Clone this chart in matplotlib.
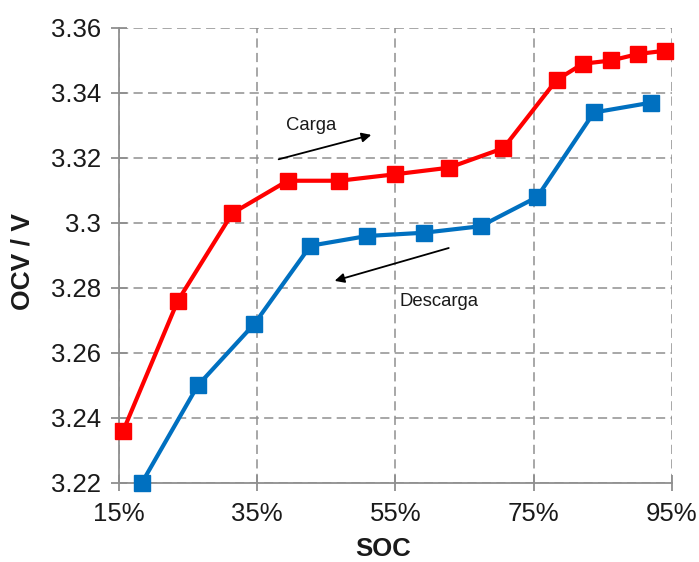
import matplotlib
matplotlib.use("Agg")
import matplotlib.pyplot as plt

plt.rcParams['font.family'] = ['Liberation Sans', 'DejaVu Sans']

# State of charge (%) and open-circuit voltage (V)
soc_carga = [15.6, 23.5, 31.4, 39.4, 46.9, 55.0, 62.7, 70.6, 78.3, 82.1, 86.2, 90.1, 94.0]
ocv_carga = [3.236, 3.276, 3.303, 3.313, 3.313, 3.315, 3.317, 3.323, 3.344, 3.349, 3.350, 3.352, 3.353]

soc_descarga = [18.3, 26.4, 34.6, 42.7, 50.9, 59.1, 67.3, 75.5, 83.7, 91.9]
ocv_descarga = [3.220, 3.250, 3.269, 3.293, 3.296, 3.297, 3.299, 3.308, 3.334, 3.337]

x_ticks = [15, 35, 55, 75, 95]
x_labels = ['15%', '35%', '55%', '75%', '95%']
y_ticks = [3.22, 3.24, 3.26, 3.28, 3.30, 3.32, 3.34, 3.36]
y_labels = ['3.22', '3.24', '3.26', '3.28', '3.3', '3.32', '3.34', '3.36']

grid_gray = '#8f8f8f'
text_col = '#1a1a1a'

W, H = 699, 562
fig = plt.figure(figsize=(W / 100, H / 100), dpi=100)
ax = fig.add_axes([0.1702, 0.1406, 0.7912, 0.8096])

ax.plot(soc_carga, ocv_carga, color='#ff0000', lw=3.0, marker='s', ms=11.5,
        zorder=4, clip_on=False)
ax.plot(soc_descarga, ocv_descarga, color='#0070c0', lw=3.0, marker='s', ms=11.5,
        zorder=4, clip_on=False)

ax.set_xlim(15, 95)
ax.set_ylim(3.22, 3.36)
ax.set_xticks(x_ticks)
ax.set_xticklabels(x_labels)
ax.set_yticks(y_ticks)
ax.set_yticklabels(y_labels)

ax.grid(True, color=grid_gray, lw=1.1, ls=(0, (6, 3.5)))
ax.set_axisbelow(True)
for side in ('top', 'right'):
    ax.spines[side].set_visible(False)
for side in ('left', 'bottom'):
    ax.spines[side].set_color(grid_gray)
    ax.spines[side].set_linewidth(1.3)

ax.tick_params(axis='both', direction='inout', length=12, width=1.3,
               color=grid_gray, labelsize=18.5, labelcolor=text_col)
ax.tick_params(axis='y', pad=7)
ax.tick_params(axis='x', pad=8)

# Axis titles placed in figure pixels
fig.text(383 / W, 1 - 549 / H, 'SOC', fontsize=18.5, fontweight='bold',
         color=text_col, ha='center', va='center')
fig.text(23 / W, 1 - 262 / H, 'OCV / V', fontsize=19, fontweight='bold',
         color=text_col, ha='center', va='center', rotation=90)

# Direction arrows for charge and discharge branches
ax.annotate('', xy=(51.5, 3.3271), xytext=(38.1, 3.3196),
            arrowprops=dict(arrowstyle='-|>', color='black', lw=1.3,
                            mutation_scale=14, shrinkA=0, shrinkB=0))
ax.text(42.8, 3.3300, 'Carga', fontsize=13.3, ha='center', va='center', color=text_col)

ax.annotate('', xy=(46.2, 3.2822), xytext=(62.7, 3.2923),
            arrowprops=dict(arrowstyle='-|>', color='black', lw=1.3,
                            mutation_scale=14, shrinkA=0, shrinkB=0))
ax.text(61.3, 3.2757, 'Descarga', fontsize=13.3, ha='center', va='center', color=text_col)

fig.savefig('out.png', dpi=100, facecolor='white')
